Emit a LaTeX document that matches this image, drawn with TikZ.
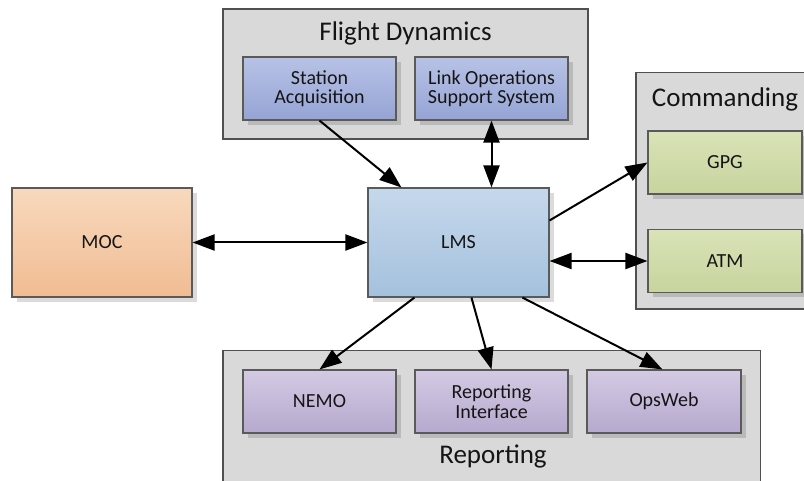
\documentclass[tikz,border=0pt]{standalone}
\usepackage{fontspec}
\setmainfont{Carlito}
\usetikzlibrary{arrows.meta,shadows,calc}
\definecolor{contfill}{HTML}{D9D9D9}
\definecolor{contline}{HTML}{505050}
\definecolor{boxline}{HTML}{5A5A5A}
\definecolor{txt}{HTML}{151515}
\definecolor{blueT}{HTML}{B8C2E6}
\definecolor{blueB}{HTML}{95A4D5}
\definecolor{lmsT}{HTML}{C6D8EB}
\definecolor{lmsB}{HTML}{A4C1DD}
\definecolor{mocT}{HTML}{F8D9BD}
\definecolor{mocB}{HTML}{F0BC93}
\definecolor{grnT}{HTML}{D9E3B8}
\definecolor{grnB}{HTML}{C7D49D}
\definecolor{purT}{HTML}{D3CAE3}
\definecolor{purB}{HTML}{B6A9CE}
\tikzset{
  box/.style={draw=boxline, line width=1.1pt, inner sep=0pt, align=center,
    text=txt, font=\fontsize{20}{19.5}\selectfont,
    drop shadow={shadow xshift=5pt, shadow yshift=-5pt, fill=black, opacity=0.14}},
  smallbox/.style={box, minimum width=153pt, minimum height=63pt},
  bluebox/.style={smallbox, top color=blueT, bottom color=blueB},
  greenbox/.style={smallbox, minimum width=154pt, top color=grnT, bottom color=grnB},
  purplebox/.style={smallbox, top color=purT, bottom color=purB},
  bigbox/.style={box, minimum width=181pt, minimum height=109pt},
  container/.style={fill=contfill, inner sep=0pt},
  contborder/.style={draw=contline, line width=1.4pt},
  title/.style={text=txt, font=\fontsize{27}{27}\selectfont, inner sep=0pt},
  link/.style={line width=2pt, draw=black},
  oneway/.style={link, -{Triangle[length=22pt 0, width=16pt 0]}},
  twoway/.style={link, {Triangle[length=22pt 0, width=16pt 0]}-{Triangle[length=22pt 0, width=16pt 0]}}
}
\begin{document}
\begin{tikzpicture}[x=1pt,y=-1pt]
\useasboundingbox (0,0) rectangle (804,481);
\fill[white] (0,0) rectangle (804,481);

% Flight Dynamics container
\node[container, contborder, minimum width=365pt, minimum height=130pt] (fd) at (405.5,74) {};
\node[title] (fdt) at (405.5,33) {Flight Dynamics};
\node[bluebox] (sa) at (319.5,88.5) {Station\\Acquisition};
\node[bluebox] (los) at (491.5,88.5) {Link Operations\\Support System};

% Commanding container (runs past the right edge)
\node[container, minimum width=168pt, minimum height=236pt] (cmd) at (720,191) {};
\draw[contborder] (cmd.north east) -- (cmd.north west) -- (cmd.south west) -- (cmd.south east);
\node[title] (cmdt) at (725,99) {Commanding};
\node[greenbox] (gpg) at (725,162.5) {GPG};
\node[greenbox] (atm) at (725,261) {ATM};

% Reporting container (runs past the bottom edge)
\node[container, minimum width=537pt, minimum height=130pt] (rep) at (491.5,416) {};
\draw[contborder] (rep.south west) -- (rep.north west) -- (rep.north east) -- (rep.south east);
\node[title] (rept) at (493,456) {Reporting};
\node[purplebox] (nemo) at (319.5,401.5) {NEMO};
\node[purplebox] (ri) at (491.5,401.5) {Reporting\\Interface};
\node[purplebox, minimum width=154pt] (ops) at (664,401.5) {OpsWeb};

% MOC and LMS
\node[bigbox, minimum width=180pt, top color=mocT, bottom color=mocB] (moc) at (102,242.5) {MOC};
\node[bigbox, top color=lmsT, bottom color=lmsB] (lms) at (458.5,242.5) {LMS};

% connectors
\draw[twoway] (moc.east) -- (lms.west);
\draw[oneway] (sa.south) -- ($(lms.north west)+(34,0)$);
\draw[twoway] (los.south) -- (los.south |- lms.north);
\draw[oneway] ($(lms.north east)+(0,33)$) -- (gpg.west);
\draw[twoway] (atm.west -| lms.east) -- (atm.west);
\draw[oneway] ($(lms.south west)+(47,0)$) -- (nemo.north);
\draw[oneway] ($(lms.south west)+(104,0)$) -- (ri.north);
\draw[oneway] ($(lms.south west)+(155,0)$) -- ($(ops.north west)+(76,0)$);
\end{tikzpicture}
\end{document}
